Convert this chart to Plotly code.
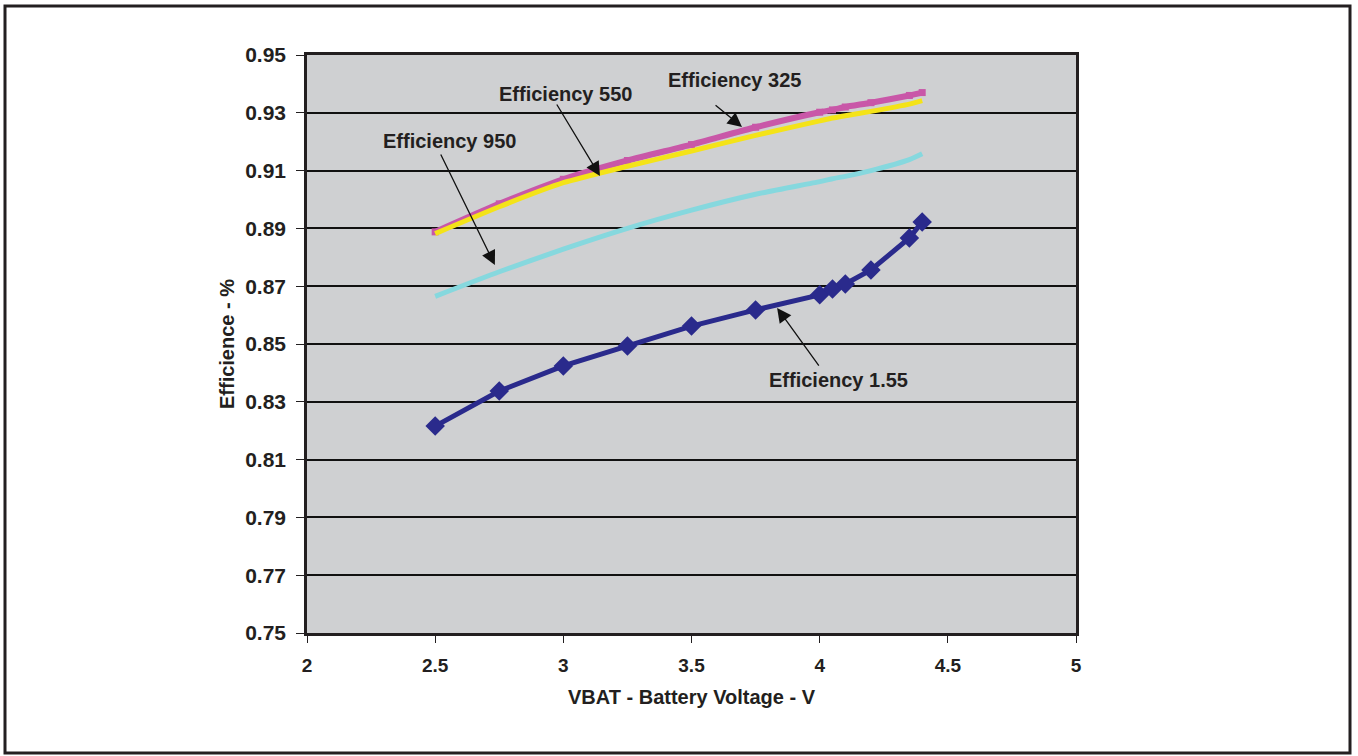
import plotly.graph_objects as go

# ---- data ----
vbat = [2.5, 2.75, 3.0, 3.25, 3.5, 3.75, 4.0, 4.05, 4.1, 4.2, 4.35, 4.4]
eff_155 = [0.8216, 0.8337, 0.8424, 0.8493, 0.8562, 0.8618, 0.8670, 0.8690, 0.8708, 0.8756, 0.8867, 0.8922]
eff_325 = [0.8888, 0.8985, 0.9070, 0.9135, 0.9190, 0.9250, 0.9302, 0.9310, 0.9320, 0.9335, 0.9360, 0.9370]
eff_550 = [0.8882, 0.8975, 0.9058, 0.9115, 0.9168, 0.9222, 0.9272, 0.9282, 0.9290, 0.9305, 0.9330, 0.9342]
eff_950 = [0.8665, 0.8750, 0.8828, 0.8900, 0.8963, 0.9018, 0.9062, 0.9072, 0.9080, 0.9100, 0.9138, 0.9158]

x_ticks = [2, 2.5, 3, 3.5, 4, 4.5, 5]
y_ticks = [0.75, 0.77, 0.79, 0.81, 0.83, 0.85, 0.87, 0.89, 0.91, 0.93, 0.95]
y_tick_labels = ["0.75", "0.77", "0.79", "0.81", "0.83", "0.85", "0.87", "0.89", "0.91", "0.93", "0.95"]

labels = ["Efficiency 325", "Efficiency 550", "Efficiency 950", "Efficiency 1.55"]
label_pos = [(3.666, 0.9414), (3.010, 0.9365), (2.554, 0.9202), (4.072, 0.8375)]
arrow_tail = [(3.588, 0.9330), (2.971, 0.9334), (2.519, 0.9161), (4.001, 0.8420)]
arrow_head = [(3.697, 0.9251), (3.143, 0.9081), (2.733, 0.8773), (3.834, 0.8625)]

FONT = "Liberation Sans, Arial, Helvetica, sans-serif"
TXT = "#231f20"

fig = go.Figure()
fig.add_trace(go.Scatter(x=vbat, y=eff_325, mode="lines+markers",
                         line=dict(color="#c957a8", width=6, shape="spline", smoothing=0.6),
                         marker=dict(symbol="square", size=7, color="#c957a8"),
                         name="Efficiency 325"))
fig.add_trace(go.Scatter(x=vbat, y=eff_550, mode="lines",
                         line=dict(color="#f4e318", width=5, shape="spline", smoothing=0.6),
                         name="Efficiency 550"))
fig.add_trace(go.Scatter(x=vbat, y=eff_950, mode="lines",
                         line=dict(color="#86d8de", width=5, shape="spline", smoothing=0.6),
                         name="Efficiency 950"))
fig.add_trace(go.Scatter(x=vbat, y=eff_155, mode="lines+markers",
                         line=dict(color="#2a2a8c", width=5),
                         marker=dict(symbol="diamond", size=15, color="#2a2a8c"),
                         name="Efficiency 1.55"))

annotations = []
for t, (tx, ty) in zip(labels, label_pos):
    annotations.append(dict(x=tx, y=ty, xref="x", yref="y", text=t, showarrow=False,
                            font=dict(family=FONT, size=20, color=TXT, weight="bold")))
for (tx, ty), (hx, hy) in zip(arrow_tail, arrow_head):
    annotations.append(dict(x=hx, y=hy, xref="x", yref="y", ax=tx, ay=ty, axref="x", ayref="y",
                            text="", showarrow=True, arrowhead=2, arrowsize=2.2, arrowwidth=1.3,
                            arrowcolor="#111111", standoff=0, startstandoff=0))

# plot area pixel geometry
W, H = 1358, 756
L, R, T, B = 307, 1076, 55, 633
pw, ph = R - L, B - T

def px2paper_x(p):
    return (p - L) / pw

def px2paper_y(p):
    return (B - p) / ph

fig.update_layout(
    width=W, height=H,
    margin=dict(l=L, r=W - R, t=T, b=H - B, pad=0),
    paper_bgcolor="white",
    plot_bgcolor="#cfd0d2",
    showlegend=False,
    font=dict(family=FONT, color=TXT),
    annotations=annotations,
    shapes=[dict(type="rect", xref="paper", yref="paper",
                 x0=px2paper_x(5), x1=px2paper_x(1350), y0=px2paper_y(753), y1=px2paper_y(6),
                 line=dict(color=TXT, width=3), fillcolor="rgba(0,0,0,0)", layer="above")],
    xaxis=dict(range=[2, 5], tickvals=x_ticks, ticktext=[str(v) for v in x_ticks],
               showgrid=False, zeroline=False,
               showline=True, linecolor=TXT, linewidth=2.5, mirror=True,
               ticks="outside", ticklen=7, tickcolor=TXT, tickwidth=1,
               ticklabelstandoff=6,
               tickfont=dict(family=FONT, size=19, color=TXT, weight="bold"),
               title=dict(text="VBAT - Battery Voltage - V", standoff=16,
                          font=dict(family=FONT, size=20, color=TXT, weight="bold"))),
    yaxis=dict(range=[0.75, 0.95], tickvals=y_ticks, ticktext=y_tick_labels,
               showgrid=True, gridcolor="#111111", gridwidth=1.6, zeroline=False,
               showline=True, linecolor=TXT, linewidth=2.5, mirror=True,
               ticks="outside", ticklen=8, tickcolor=TXT, tickwidth=1,
               ticklabelstandoff=6,
               tickfont=dict(family=FONT, size=21, color=TXT, weight="bold"),
               title=dict(text="Efficience - %", standoff=6,
                          font=dict(family=FONT, size=20, color=TXT, weight="bold"))),
)

fig.write_html("out.html", config={"displayModeBar": False},
               post_script="document.body.style.margin='0';document.body.style.overflow='hidden';")
